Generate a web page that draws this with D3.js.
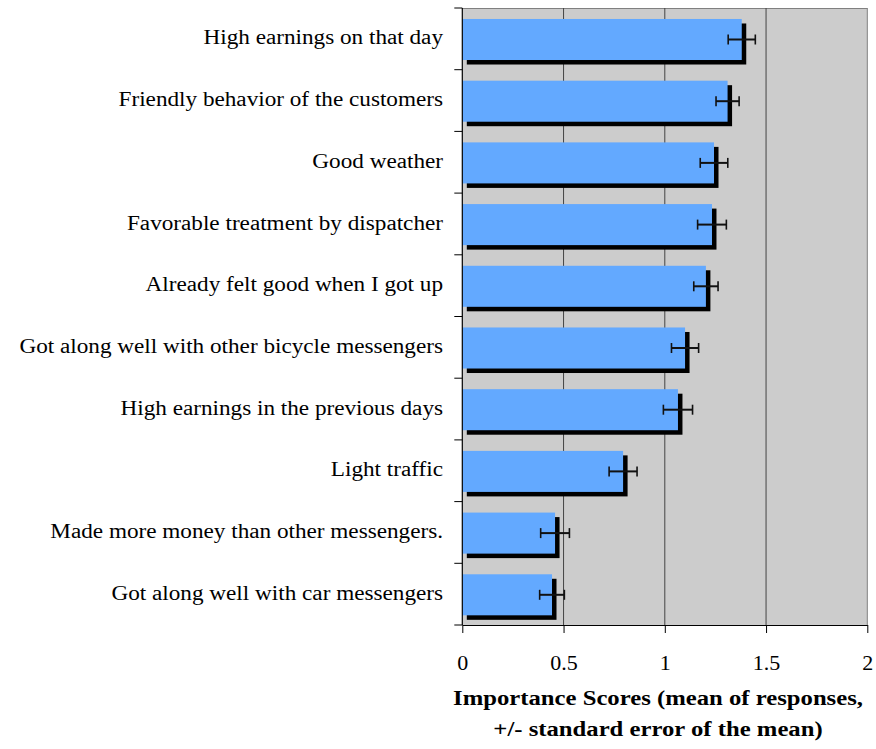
<!DOCTYPE html>
<html>
<head>
<meta charset="utf-8">
<script src="https://cdn.jsdelivr.net/npm/d3@7/dist/d3.min.js"></script>
<style>
  body { margin: 0; background: #fff; }
  svg { display: block; }
</style>
</head>
<body>
<svg id="chart" width="876" height="749"></svg>
<script>
const categories = [
  "High earnings on that day",
  "Friendly behavior of the customers",
  "Good weather",
  "Favorable treatment by dispatcher",
  "Already felt good when I got up",
  "Got along well with other bicycle messengers",
  "High earnings in the previous days",
  "Light traffic",
  "Made more money than other messengers.",
  "Got along well with car messengers"
];
const means = [1.38, 1.31, 1.243, 1.233, 1.203, 1.10, 1.065, 0.794, 0.458, 0.443];
const stdErrors = [0.067, 0.057, 0.068, 0.071, 0.06, 0.067, 0.072, 0.069, 0.071, 0.061];
const xTicks = [0, 0.5, 1, 1.5, 2];
const xTickLabels = ["0", "0.5", "1", "1.5", "2"];
const titleLines = ["Importance Scores (mean of responses,", "+/- standard error of the mean)"];

(function () {
const svg = d3.select("#chart");
const pLeft = 462.3, pRight = 867.3, pTop = 8, pBottom = 625;
const font = "'Liberation Serif', 'Times New Roman', serif";
const labelStretch = 1.16, titleStretch = 1.235, tickStretch = 1.1;

const x = d3.scaleLinear().domain([0, 2]).range([pLeft, pRight]);
const y = d3.scaleBand().domain(categories).range([pTop, pBottom]).paddingInner(0).paddingOuter(0);
const step = y.step();

svg.append("rect").attr("x", pLeft).attr("y", pTop)
  .attr("width", pRight - pLeft).attr("height", pBottom - pTop)
  .attr("fill", "#cccccc");

svg.append("line").attr("x1", pLeft).attr("x2", pRight).attr("y1", pTop + 0.5).attr("y2", pTop + 0.5)
  .attr("stroke", "#808080").attr("stroke-width", 1);

svg.append("g").selectAll("line").data(xTicks.filter(d => d > 0)).join("line")
  .attr("x1", d => x(d)).attr("x2", d => x(d))
  .attr("y1", pTop).attr("y2", pBottom)
  .attr("stroke", d => d === 2 ? "#808080" : "#444")
  .attr("stroke-width", 1);

const barTop = step * 0.178, barH = step * 0.665, sh = 4.5;

svg.append("g").selectAll("rect").data(categories).join("rect")
  .attr("x", x(0) + sh)
  .attr("y", d => y(d) + barTop + sh)
  .attr("width", (d, i) => x(means[i]) - x(0))
  .attr("height", barH)
  .attr("fill", "#000");

svg.append("g").selectAll("rect").data(categories).join("rect")
  .attr("x", x(0))
  .attr("y", d => y(d) + barTop)
  .attr("width", (d, i) => x(means[i]) - x(0))
  .attr("height", barH)
  .attr("fill", "#63a9ff");

const eg = svg.append("g").attr("stroke", "#111");
categories.forEach((c, i) => {
  const cy = y(c) + barTop + barH / 2;
  const x1 = x(means[i] - stdErrors[i]), x2 = x(means[i] + stdErrors[i]);
  eg.append("line").attr("x1", x1).attr("x2", x2).attr("y1", cy).attr("y2", cy).attr("stroke-width", 2);
  eg.append("line").attr("x1", x1).attr("x2", x1).attr("y1", cy - 5).attr("y2", cy + 5).attr("stroke-width", 1.6);
  eg.append("line").attr("x1", x2).attr("x2", x2).attr("y1", cy - 5).attr("y2", cy + 5).attr("stroke-width", 1.6);
});

svg.append("line").attr("x1", pLeft).attr("x2", pLeft).attr("y1", pTop).attr("y2", pBottom)
  .attr("stroke", "#000").attr("stroke-width", 1.2);
const boundaries = categories.map(c => y(c)).concat([pBottom]);
svg.append("g").selectAll("line").data(boundaries).join("line")
  .attr("x1", pLeft - 8).attr("x2", pLeft).attr("y1", d => d).attr("y2", d => d)
  .attr("stroke", "#000").attr("stroke-width", 1);

svg.append("g").selectAll("text").data(categories).join("text")
  .attr("transform", d => `translate(443,${y(d) + step / 2 + 1}) scale(${labelStretch},1)`)
  .attr("text-anchor", "end")
  .attr("dominant-baseline", "middle")
  .attr("font-family", font)
  .attr("font-size", 20)
  .attr("fill", "#000")
  .text(d => d);

const xAxis = d3.axisBottom(x).tickValues(xTicks).tickFormat((d, i) => xTickLabels[i])
  .tickSize(8).tickSizeOuter(0);
const gx = svg.append("g").attr("transform", `translate(0,${pBottom})`).call(xAxis);
gx.select(".domain").attr("stroke", "#000").attr("stroke-width", 1.2);
gx.selectAll(".tick line").attr("stroke", "#000");
gx.selectAll(".tick text")
  .attr("font-family", font).attr("font-size", 20).attr("fill", "#000")
  .attr("dy", 0).attr("y", 0)
  .attr("transform", `translate(0,45) scale(${tickStretch},1)`);

titleLines.forEach((t, i) => {
  svg.append("text")
    .attr("transform", `translate(658,${705 + i * 31}) scale(${titleStretch},1)`)
    .attr("text-anchor", "middle")
    .attr("font-family", font).attr("font-size", 20).attr("font-weight", "bold")
    .attr("fill", "#000")
    .text(t);
});
})();
</script>
</body>
</html>
